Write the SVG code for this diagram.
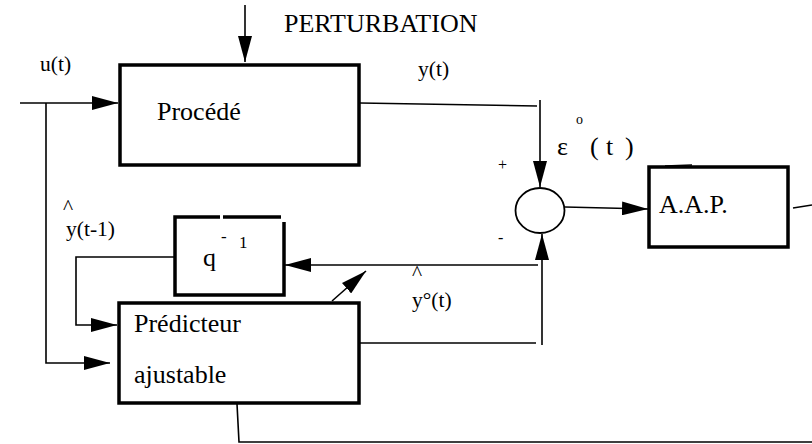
<svg xmlns="http://www.w3.org/2000/svg" width="812" height="444" viewBox="0 0 812 444">
<style>
text{font-family:"Liberation Serif","Times New Roman",serif;fill:#000}
.big{font-size:26px}
.sm{font-size:21.5px}
.box{fill:none;stroke:#000;stroke-width:3.5}
.ln{fill:none;stroke:#000;stroke-width:1.6}
</style>
<defs>
<marker id="ah" markerWidth="26" markerHeight="14" refX="26" refY="7" orient="auto" markerUnits="userSpaceOnUse">
<path d="M0,0 L26,7 L0,14 Z" fill="#000"/>
</marker>
</defs>
<rect width="812" height="444" fill="#fff"/>
<g id="connectors">
<path class="ln" d="M245,5 V62" marker-end="url(#ah)"/>
<path class="ln" d="M20,103 H118" marker-end="url(#ah)"/>
<path class="ln" d="M46,103 V363 H110" marker-end="url(#ah)"/>
<path class="ln" d="M175,257 H76 V325 H117" marker-end="url(#ah)"/>
<path class="ln" d="M360,103 L537,106"/>
<path class="ln" d="M540,100 V187" marker-end="url(#ah)"/>
<path class="ln" d="M359,343 H536"/>
<path class="ln" d="M542,345 V234" marker-end="url(#ah)"/>
<path class="ln" d="M538,265 H285" marker-end="url(#ah)"/>
<path class="ln" d="M332,301 L366,271" marker-end="url(#ah)"/>
<path class="ln" d="M565,207 L648,209" marker-end="url(#ah)"/>
<path class="ln" d="M793,208 L812,205"/>
<path class="ln" d="M237,404 L239,442 H812"/>
</g>
<g id="perturbation"><text class="big" x="284" y="32">PERTURBATION</text></g>
<g id="u-label"><text class="sm" x="40" y="71">u(t)</text></g>
<g id="y-label"><text class="sm" x="418" y="76">y(t)</text></g>
<g id="procede">
<rect class="box" x="120" y="65" width="239" height="100"/>
<text class="big" x="157" y="120">Procédé</text>
</g>
<g id="q-delay">
<path class="box" d="M220,217 H175 V295 H284 V222"/>
<path class="box" d="M223,217 H281"/>
<text class="big" x="203" y="266">q</text>
<text font-size="17" x="221" y="242">-</text>
<text font-size="17" x="239" y="248">1</text>
</g>
<g id="yhat-t1">
<text class="sm" x="63" y="214">^</text>
<text class="sm" x="66" y="236">y(t-1)</text>
</g>
<g id="predicteur">
<rect class="box" x="119" y="303" width="240" height="100"/>
<text class="big" x="134" y="332">Prédicteur</text>
<text class="big" x="134" y="383">ajustable</text>
</g>
<g id="yhat-o">
<text class="sm" x="412" y="280">^</text>
<text class="sm" x="412" y="307">y°(t)</text>
</g>
<g id="sum">
<ellipse cx="540" cy="210.5" rx="24.5" ry="22.5" fill="#fff" stroke="#000" stroke-width="1.8"/>
<text font-size="16" x="498" y="170">+</text>
<text font-size="16" x="498" y="243">-</text>
</g>
<g id="epsilon">
<text class="big" x="557" y="155">ε</text>
<text font-size="14" x="576" y="124">o</text>
<text class="big" x="590" y="155">(</text>
<text class="big" x="606" y="155">t</text>
<text class="big" x="625" y="155">)</text>
</g>
<g id="aap">
<rect class="box" x="649" y="167" width="139" height="80"/>
<path class="ln" d="M665,166 L692,165"/>
<text class="big" x="659" y="213">A.A.P.</text>
</g>
</svg>
